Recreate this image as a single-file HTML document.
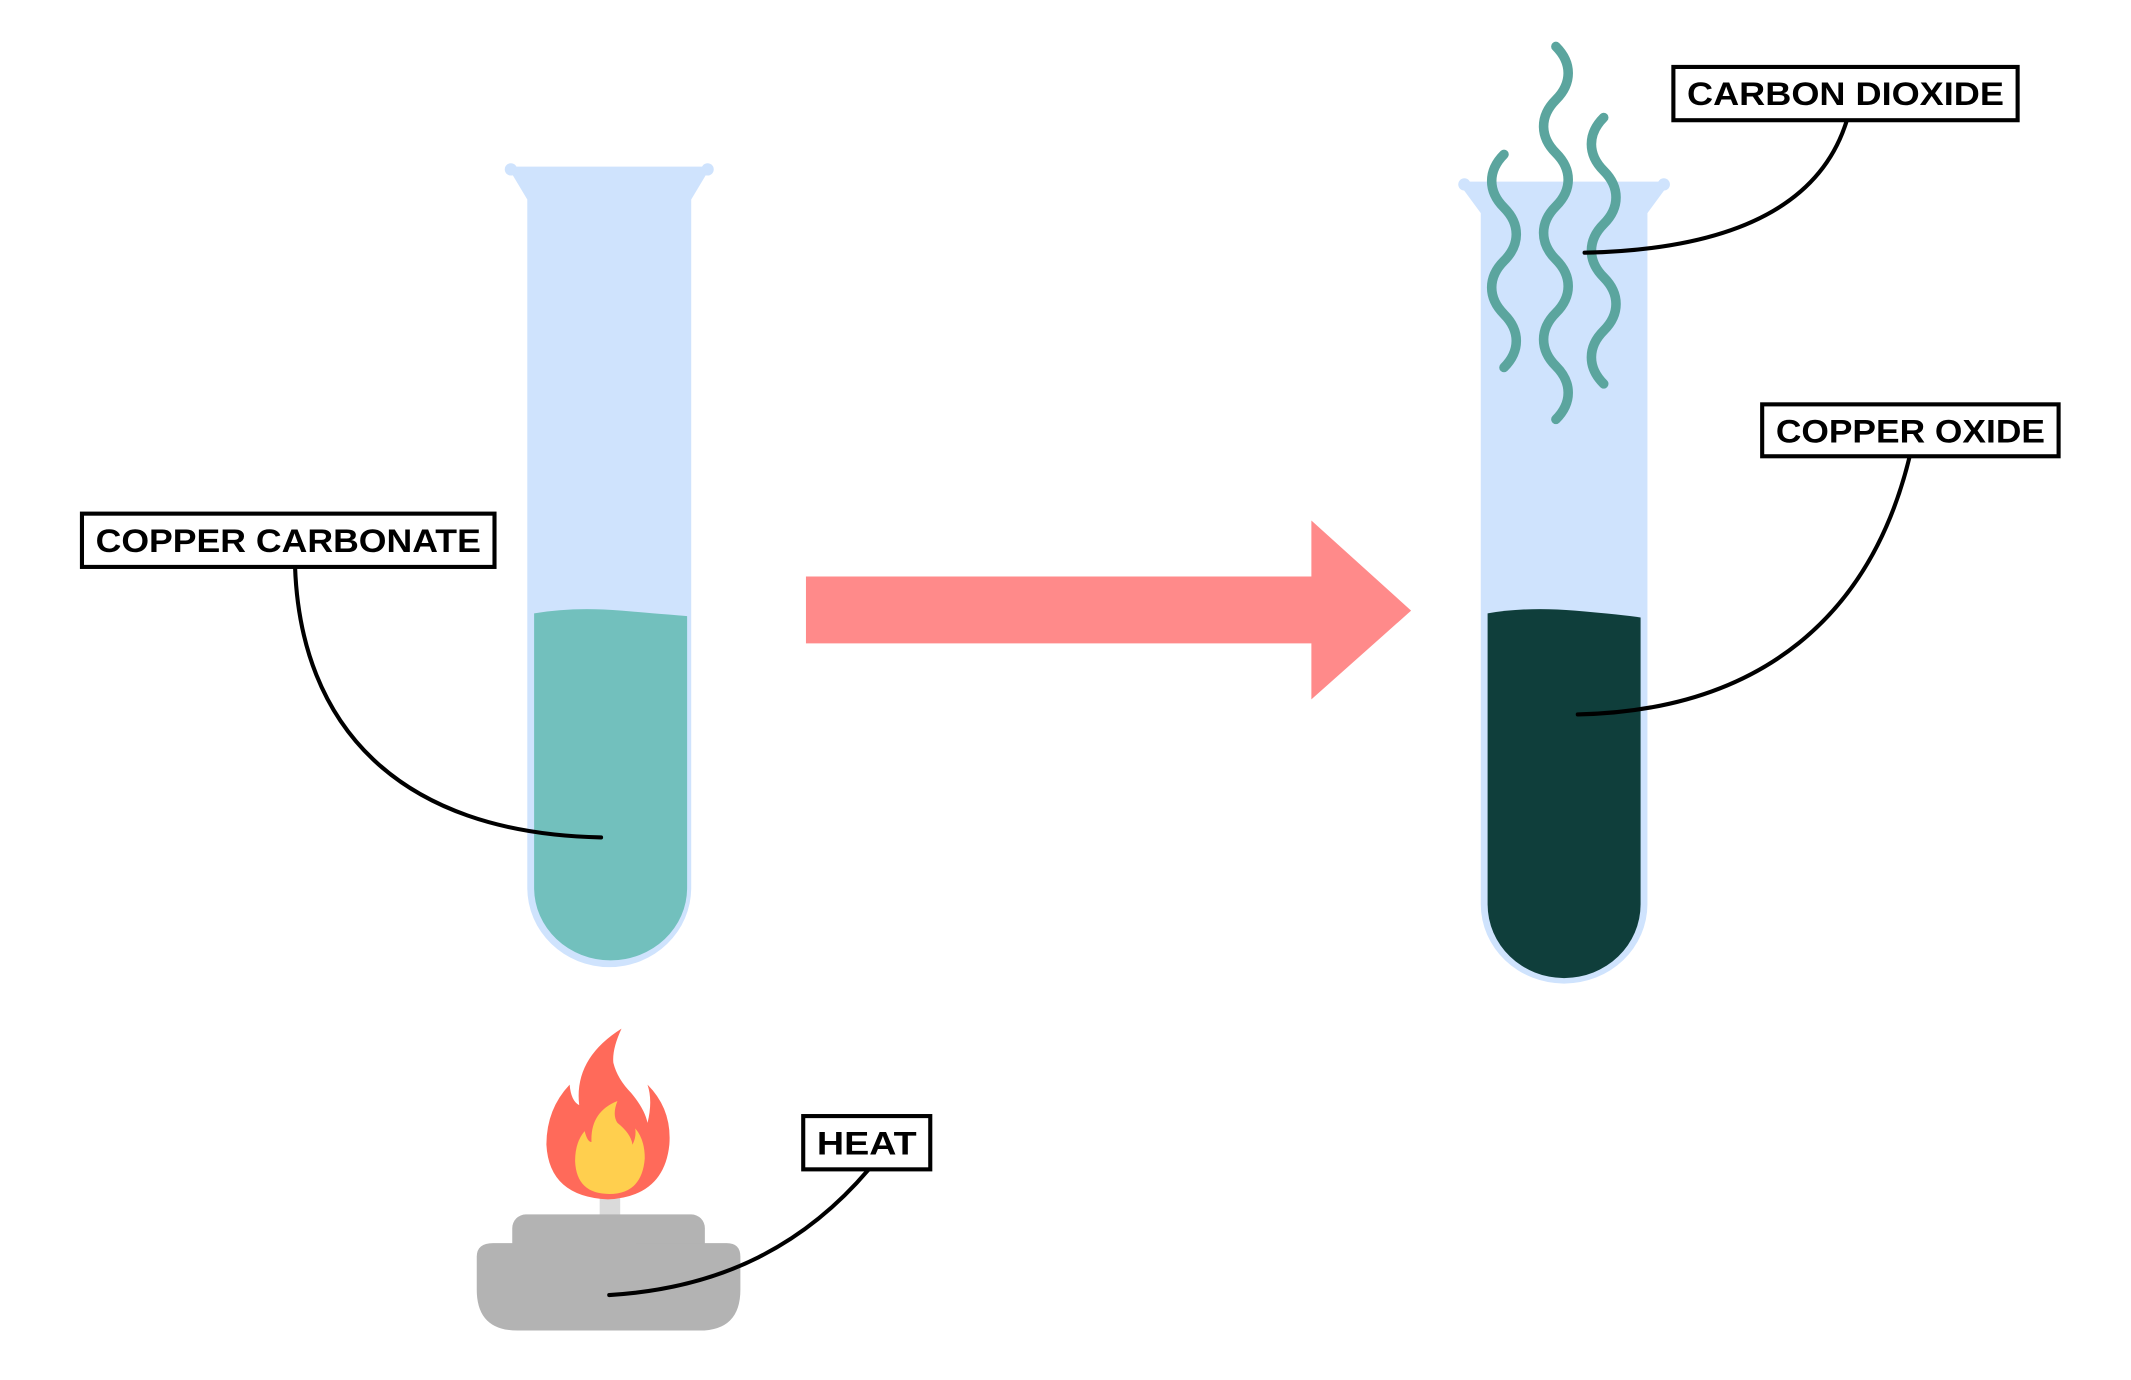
<!DOCTYPE html>
<html><head><meta charset="utf-8"><style>
html,body{margin:0;padding:0;background:#fff;}
svg{display:block;}
text{font-family:"Liberation Sans",sans-serif;font-weight:bold;font-size:24px;fill:#000;}
</style></head><body>
<svg width="2131" height="1380" viewBox="0 0 1560 1010.2" preserveAspectRatio="none" xmlns="http://www.w3.org/2000/svg">
<!-- left tube -->
<g fill="#CFE3FD">
<path d="M372 122 L518 122 L518 126 L506 146 L506 650 A60 58 0 0 1 386 650 L386 146 L374 126 Z"/>
<circle cx="374" cy="124" r="4.5"/><circle cx="518" cy="124" r="4.5"/>
</g>
<path d="M391 449 Q420 444 455 447 T503 451 L503 650 A56 53 0 0 1 391 650 Z" fill="#72C0BD"/>
<!-- right tube -->
<g fill="#CFE3FD">
<path d="M1070 133 L1220 133 L1220 137 L1206 156 L1206 662 A61 58 0 0 1 1084 662 L1084 156 L1070 137 Z"/>
<circle cx="1072" cy="135" r="4.5"/><circle cx="1218" cy="135" r="4.5"/>
</g>
<path d="M1089 449 Q1118 444 1153 447 T1201 452 L1201 662 A56 54 0 0 1 1089 662 Z" fill="#0F3E3B"/>
<!-- squiggles -->
<g fill="none" stroke="#5BA59E" stroke-width="7" stroke-linecap="round">
<path d="M1139 34 C1151 46 1151 61 1139 73 C1127 85 1127 100 1139 112 C1151 124 1151 139 1139 151 C1127 163 1127 178 1139 190 C1151 202 1151 217 1139 229 C1127 241 1127 256 1139 268 C1151 280 1151 295 1139 307"/>
<path d="M1101 113 C1089 125 1089 140 1101 152 C1113 164 1113 179 1101 191 C1089 203 1089 218 1101 230 C1113 242 1113 257 1101 269"/>
<path d="M1174 86 C1162 98 1162 113 1174 125 C1186 137 1186 152 1174 164 C1162 176 1162 191 1174 203 C1186 215 1186 230 1174 242 C1162 254 1162 269 1174 281"/>
</g>
<!-- arrow -->
<path d="M590 422 L960 422 L960 381 L1033 447 L960 512 L960 471 L590 471 Z" fill="#FF8A8A"/>
<!-- burner -->
<rect x="439" y="872" width="15" height="22" fill="#DADADA"/>
<rect x="375" y="889" width="141" height="40" rx="10" fill="#B3B3B3"/>
<path d="M361 910 L532 910 Q542 910 542 920 L542 944 Q542 974 512 974 L379 974 Q349 974 349 944 L349 920 Q349 910 361 910 Z" fill="#B3B3B3"/>
<!-- flame -->
<path d="M455 753 Q448 768 449 778 Q452 790 462 800 Q472 812 474 822 Q478 806 474 794 Q492 812 490 838 Q486 876 445 878 Q402 876 400 838 Q400 812 417 794 Q418 806 424 809 Q420 775 455 753 Z" fill="#FF6A5A"/>
<path d="M452 806 Q448 816 452 822 Q462 830 463 838 Q466 832 465 826 Q472 834 472 848 Q470 874 446 874 Q422 874 421 850 Q421 836 428 828 Q430 836 433 836 Q432 814 452 806 Z" fill="#FFCF4E"/>
<!-- leaders -->
<g fill="none" stroke="#000" stroke-width="3" stroke-linecap="round">
<path d="M216 415 C220 530 290 610 440 613"/>
<path d="M1352 88 C1330 160 1250 183 1160 185"/>
<path d="M1398 334 C1370 450 1290 520 1155 523"/>
<path d="M636 856 C590 910 530 943 446 948"/>
</g>
<!-- labels -->
<g fill="#fff" stroke="#000" stroke-width="3">
<rect x="60" y="376" width="302" height="39"/>
<rect x="1225" y="49" width="252" height="39"/>
<rect x="1290" y="296" width="217" height="38"/>
<rect x="588" y="817" width="93" height="39"/>
</g>
<text x="70" y="404" textLength="282" lengthAdjust="spacingAndGlyphs">COPPER CARBONATE</text>
<text x="1235" y="77" textLength="232" lengthAdjust="spacingAndGlyphs">CARBON DIOXIDE</text>
<text x="1300" y="324" textLength="197" lengthAdjust="spacingAndGlyphs">COPPER OXIDE</text>
<text x="598" y="845" textLength="73" lengthAdjust="spacingAndGlyphs">HEAT</text>
</svg>
</body></html>
